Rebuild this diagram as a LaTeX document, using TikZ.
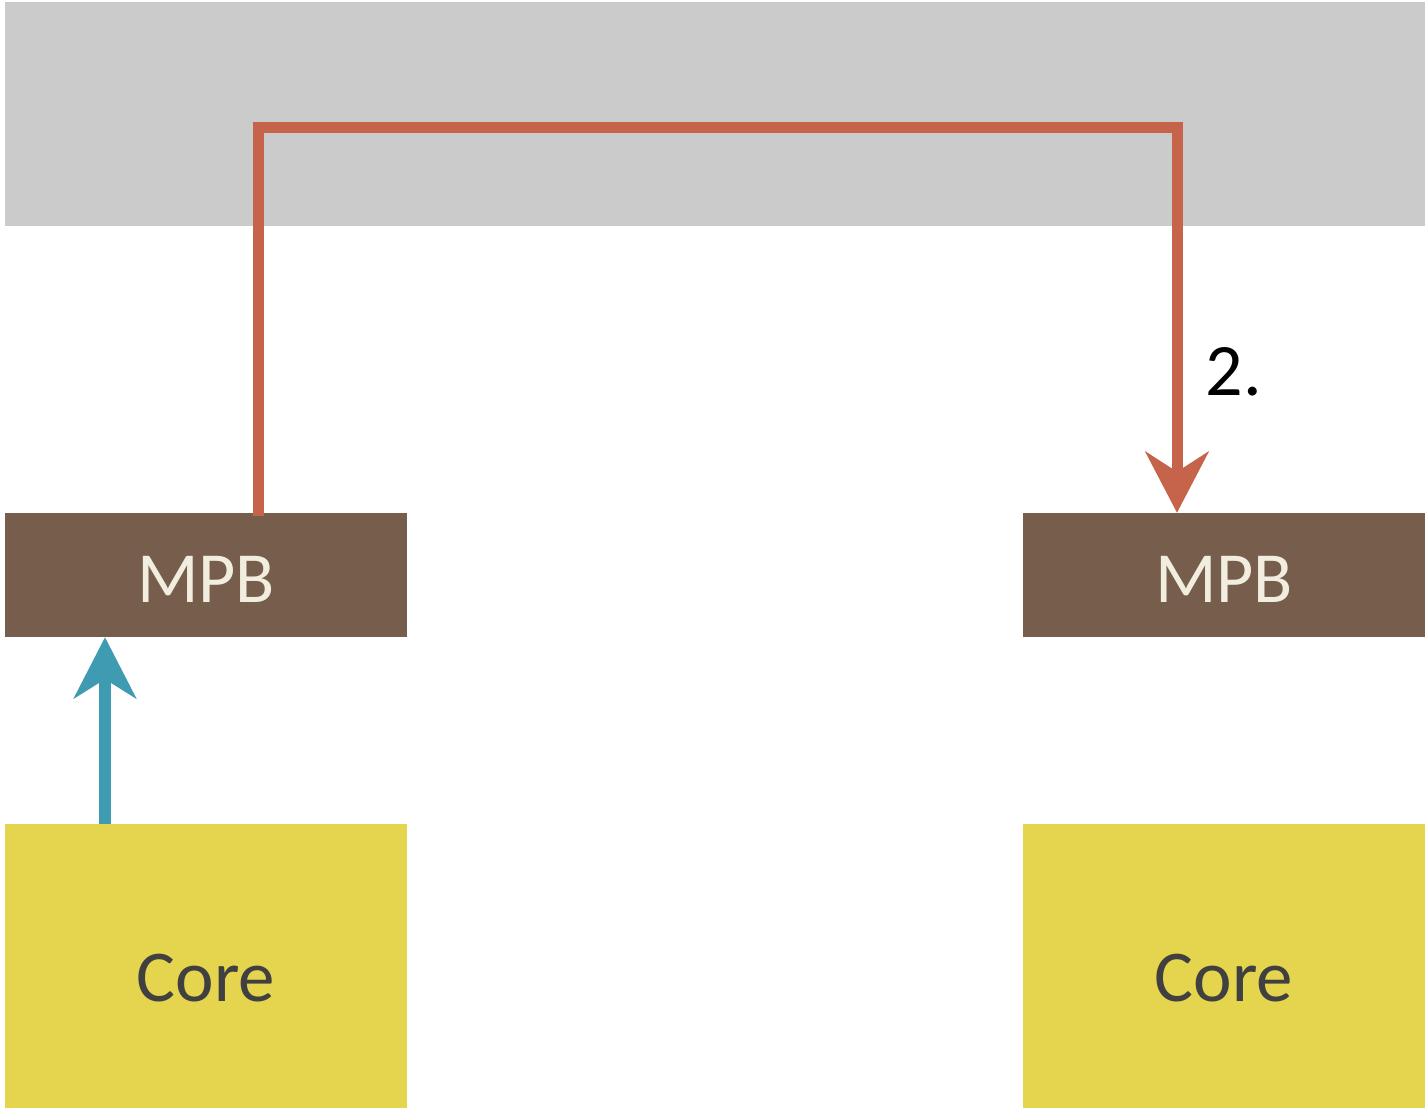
\documentclass[tikz,border=0pt]{standalone}
\usepackage{fontspec}
\setmainfont{Carlito}
\usetikzlibrary{arrows.meta}

\definecolor{meshgray}{HTML}{CBCBCB}
\definecolor{mpbbrown}{HTML}{765D4C}
\definecolor{mpbtext}{HTML}{F2EEDF}
\definecolor{coreyellow}{HTML}{E5D44E}
\definecolor{coretext}{HTML}{404040}
\definecolor{msgred}{HTML}{C5644B}
\definecolor{msgblue}{HTML}{3F9BB1}

\begin{document}
\begin{tikzpicture}[x=1pt,y=-1pt]
		\tikzset{mesh/.style={fill=meshgray,inner sep=0pt,minimum width=1420pt,minimum height=224pt}}
		\tikzset{mpb/.style={fill=mpbbrown,text=mpbtext,inner sep=0pt,minimum width=402pt,minimum height=124pt,text height=55pt,text depth=0pt,font=\fontsize{72}{86}\selectfont}}
		\tikzset{core/.style={fill=coreyellow,text=coretext,inner sep=0pt,minimum width=402pt,minimum height=284pt,text height=70pt,text depth=0pt,font=\fontsize{73}{88}\selectfont}}
		\tikzset{redline/.style={draw=msgred,line width=11pt,miter limit=10,-{Stealth[length=61pt,width=63pt,inset=20pt]}}}
		\tikzset{blueline/.style={draw=msgblue,line width=12pt,-{Stealth[length=61pt,width=62pt,inset=19pt]}}}
		\useasboundingbox (0,0) rectangle (1428,1111);
		\node[mesh] (bus) at (715,114) {};
		\node[mpb] (mpbL) at (206,575) {MPB};
		\node[mpb] (mpbR) at (1224,575) {MPB};
		\node[core] (coreL) at (206,966) {Core};
		\node[core] (coreR) at (1224,966) {Core};
		\coordinate (turnL) at (258,127);
		\coordinate (turnR) at (1177,127);
		\coordinate (upB) at (105,0);
		\draw[redline] ([yshift=-3pt]mpbL.north -| turnL) -- (turnL) -- (turnR) -- (mpbR.north -| turnR);
		\draw[blueline] (coreL.north -| upB) -- (mpbL.south -| upB);
		\node[font=\fontsize{74}{88}\selectfont] (step2) at (1234,372) {2.};
\end{tikzpicture}
\end{document}
